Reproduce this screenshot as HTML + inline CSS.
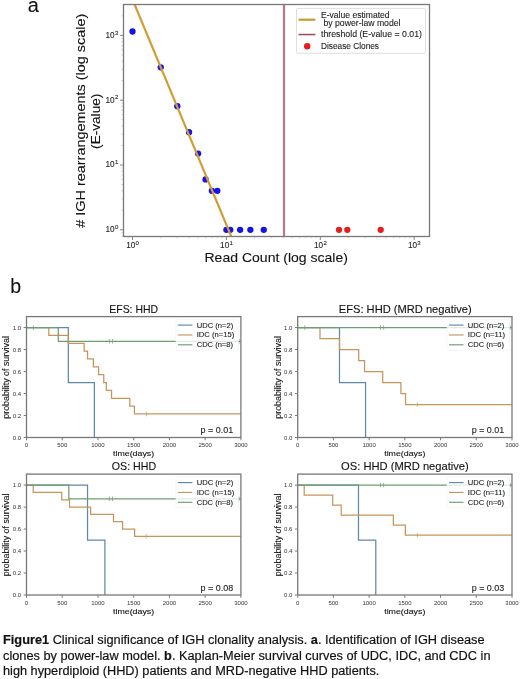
<!DOCTYPE html>
<html><head><meta charset="utf-8"><style>
html,body{margin:0;padding:0;background:#fff;}
svg{display:block;filter:blur(0.35px);}
text{font-family:"Liberation Sans", sans-serif;}
</style></head><body>
<svg width="520" height="679" viewBox="0 0 520 679">
<rect width="520" height="679" fill="#fff"/>
<clipPath id="ca"><rect x="123.5" y="4.5" width="306.0" height="232.0"/></clipPath>
<line x1="121.5" y1="236.08" x2="123.5" y2="236.08" stroke="#b0b0b0" stroke-width="0.6"/><line x1="128.20" y1="236.5" x2="128.20" y2="238.5" stroke="#b0b0b0" stroke-width="0.5"/><line x1="121.5" y1="232.77" x2="123.5" y2="232.77" stroke="#b0b0b0" stroke-width="0.6"/><line x1="132.50" y1="236.5" x2="132.50" y2="240.0" stroke="#787878" stroke-width="0.9"/><line x1="120.0" y1="229.80" x2="123.5" y2="229.80" stroke="#787878" stroke-width="0.9"/><line x1="160.77" y1="236.5" x2="160.77" y2="238.5" stroke="#b0b0b0" stroke-width="0.5"/><line x1="121.5" y1="210.29" x2="123.5" y2="210.29" stroke="#b0b0b0" stroke-width="0.6"/><line x1="177.30" y1="236.5" x2="177.30" y2="238.5" stroke="#b0b0b0" stroke-width="0.5"/><line x1="121.5" y1="198.88" x2="123.5" y2="198.88" stroke="#b0b0b0" stroke-width="0.6"/><line x1="189.03" y1="236.5" x2="189.03" y2="238.5" stroke="#b0b0b0" stroke-width="0.5"/><line x1="121.5" y1="190.79" x2="123.5" y2="190.79" stroke="#b0b0b0" stroke-width="0.6"/><line x1="198.13" y1="236.5" x2="198.13" y2="238.5" stroke="#b0b0b0" stroke-width="0.5"/><line x1="121.5" y1="184.51" x2="123.5" y2="184.51" stroke="#b0b0b0" stroke-width="0.6"/><line x1="205.57" y1="236.5" x2="205.57" y2="238.5" stroke="#b0b0b0" stroke-width="0.5"/><line x1="121.5" y1="179.38" x2="123.5" y2="179.38" stroke="#b0b0b0" stroke-width="0.6"/><line x1="211.85" y1="236.5" x2="211.85" y2="238.5" stroke="#b0b0b0" stroke-width="0.5"/><line x1="121.5" y1="175.04" x2="123.5" y2="175.04" stroke="#b0b0b0" stroke-width="0.6"/><line x1="217.30" y1="236.5" x2="217.30" y2="238.5" stroke="#b0b0b0" stroke-width="0.5"/><line x1="121.5" y1="171.28" x2="123.5" y2="171.28" stroke="#b0b0b0" stroke-width="0.6"/><line x1="222.10" y1="236.5" x2="222.10" y2="238.5" stroke="#b0b0b0" stroke-width="0.5"/><line x1="121.5" y1="167.97" x2="123.5" y2="167.97" stroke="#b0b0b0" stroke-width="0.6"/><line x1="226.40" y1="236.5" x2="226.40" y2="240.0" stroke="#787878" stroke-width="0.9"/><line x1="120.0" y1="165.00" x2="123.5" y2="165.00" stroke="#787878" stroke-width="0.9"/><line x1="254.67" y1="236.5" x2="254.67" y2="238.5" stroke="#b0b0b0" stroke-width="0.5"/><line x1="121.5" y1="145.49" x2="123.5" y2="145.49" stroke="#b0b0b0" stroke-width="0.6"/><line x1="271.20" y1="236.5" x2="271.20" y2="238.5" stroke="#b0b0b0" stroke-width="0.5"/><line x1="121.5" y1="134.08" x2="123.5" y2="134.08" stroke="#b0b0b0" stroke-width="0.6"/><line x1="282.93" y1="236.5" x2="282.93" y2="238.5" stroke="#b0b0b0" stroke-width="0.5"/><line x1="121.5" y1="125.99" x2="123.5" y2="125.99" stroke="#b0b0b0" stroke-width="0.6"/><line x1="292.03" y1="236.5" x2="292.03" y2="238.5" stroke="#b0b0b0" stroke-width="0.5"/><line x1="121.5" y1="119.71" x2="123.5" y2="119.71" stroke="#b0b0b0" stroke-width="0.6"/><line x1="299.47" y1="236.5" x2="299.47" y2="238.5" stroke="#b0b0b0" stroke-width="0.5"/><line x1="121.5" y1="114.58" x2="123.5" y2="114.58" stroke="#b0b0b0" stroke-width="0.6"/><line x1="305.75" y1="236.5" x2="305.75" y2="238.5" stroke="#b0b0b0" stroke-width="0.5"/><line x1="121.5" y1="110.24" x2="123.5" y2="110.24" stroke="#b0b0b0" stroke-width="0.6"/><line x1="311.20" y1="236.5" x2="311.20" y2="238.5" stroke="#b0b0b0" stroke-width="0.5"/><line x1="121.5" y1="106.48" x2="123.5" y2="106.48" stroke="#b0b0b0" stroke-width="0.6"/><line x1="316.00" y1="236.5" x2="316.00" y2="238.5" stroke="#b0b0b0" stroke-width="0.5"/><line x1="121.5" y1="103.17" x2="123.5" y2="103.17" stroke="#b0b0b0" stroke-width="0.6"/><line x1="320.30" y1="236.5" x2="320.30" y2="240.0" stroke="#787878" stroke-width="0.9"/><line x1="120.0" y1="100.20" x2="123.5" y2="100.20" stroke="#787878" stroke-width="0.9"/><line x1="348.57" y1="236.5" x2="348.57" y2="238.5" stroke="#b0b0b0" stroke-width="0.5"/><line x1="121.5" y1="80.69" x2="123.5" y2="80.69" stroke="#b0b0b0" stroke-width="0.6"/><line x1="365.10" y1="236.5" x2="365.10" y2="238.5" stroke="#b0b0b0" stroke-width="0.5"/><line x1="121.5" y1="69.28" x2="123.5" y2="69.28" stroke="#b0b0b0" stroke-width="0.6"/><line x1="376.83" y1="236.5" x2="376.83" y2="238.5" stroke="#b0b0b0" stroke-width="0.5"/><line x1="121.5" y1="61.19" x2="123.5" y2="61.19" stroke="#b0b0b0" stroke-width="0.6"/><line x1="385.93" y1="236.5" x2="385.93" y2="238.5" stroke="#b0b0b0" stroke-width="0.5"/><line x1="121.5" y1="54.91" x2="123.5" y2="54.91" stroke="#b0b0b0" stroke-width="0.6"/><line x1="393.37" y1="236.5" x2="393.37" y2="238.5" stroke="#b0b0b0" stroke-width="0.5"/><line x1="121.5" y1="49.78" x2="123.5" y2="49.78" stroke="#b0b0b0" stroke-width="0.6"/><line x1="399.65" y1="236.5" x2="399.65" y2="238.5" stroke="#b0b0b0" stroke-width="0.5"/><line x1="121.5" y1="45.44" x2="123.5" y2="45.44" stroke="#b0b0b0" stroke-width="0.6"/><line x1="405.10" y1="236.5" x2="405.10" y2="238.5" stroke="#b0b0b0" stroke-width="0.5"/><line x1="121.5" y1="41.68" x2="123.5" y2="41.68" stroke="#b0b0b0" stroke-width="0.6"/><line x1="409.90" y1="236.5" x2="409.90" y2="238.5" stroke="#b0b0b0" stroke-width="0.5"/><line x1="121.5" y1="38.37" x2="123.5" y2="38.37" stroke="#b0b0b0" stroke-width="0.6"/><line x1="414.20" y1="236.5" x2="414.20" y2="240.0" stroke="#787878" stroke-width="0.9"/><line x1="120.0" y1="35.40" x2="123.5" y2="35.40" stroke="#787878" stroke-width="0.9"/><line x1="121.5" y1="15.89" x2="123.5" y2="15.89" stroke="#b0b0b0" stroke-width="0.6"/>
<text x="130.75" y="247.60" font-size="8.2" stroke="#222" stroke-width="0.1" text-anchor="middle" fill="#222" id="t1">10</text>
<text x="135.60" y="244.80" font-size="6.0" stroke="#222" stroke-width="0.1" fill="#222" id="t2">0</text>
<text x="114.50" y="232.20" font-size="8.2" stroke="#222" stroke-width="0.1" text-anchor="end" fill="#222" id="t3">10</text>
<text x="114.90" y="229.00" font-size="6.0" stroke="#222" stroke-width="0.1" fill="#222" id="t4">0</text>
<text x="224.65" y="247.60" font-size="8.2" stroke="#222" stroke-width="0.1" text-anchor="middle" fill="#222" id="t5">10</text>
<text x="229.50" y="244.80" font-size="6.0" stroke="#222" stroke-width="0.1" fill="#222" id="t6">1</text>
<text x="114.50" y="167.40" font-size="8.2" stroke="#222" stroke-width="0.1" text-anchor="end" fill="#222" id="t7">10</text>
<text x="114.90" y="164.20" font-size="6.0" stroke="#222" stroke-width="0.1" fill="#222" id="t8">1</text>
<text x="318.55" y="247.60" font-size="8.2" stroke="#222" stroke-width="0.1" text-anchor="middle" fill="#222" id="t9">10</text>
<text x="323.40" y="244.80" font-size="6.0" stroke="#222" stroke-width="0.1" fill="#222" id="t10">2</text>
<text x="114.50" y="102.60" font-size="8.2" stroke="#222" stroke-width="0.1" text-anchor="end" fill="#222" id="t11">10</text>
<text x="114.90" y="99.40" font-size="6.0" stroke="#222" stroke-width="0.1" fill="#222" id="t12">2</text>
<text x="412.45" y="247.60" font-size="8.2" stroke="#222" stroke-width="0.1" text-anchor="middle" fill="#222" id="t13">10</text>
<text x="417.30" y="244.80" font-size="6.0" stroke="#222" stroke-width="0.1" fill="#222" id="t14">3</text>
<text x="114.50" y="37.80" font-size="8.2" stroke="#222" stroke-width="0.1" text-anchor="end" fill="#222" id="t15">10</text>
<text x="114.90" y="34.60" font-size="6.0" stroke="#222" stroke-width="0.1" fill="#222" id="t16">3</text>
<g clip-path="url(#ca)"><circle cx="132.50" cy="31.52" r="3.15" fill="#1414e6"/><circle cx="160.77" cy="67.29" r="3.15" fill="#1414e6"/><circle cx="177.30" cy="106.13" r="3.15" fill="#1414e6"/><circle cx="189.03" cy="132.27" r="3.15" fill="#1414e6"/><circle cx="198.13" cy="153.59" r="3.15" fill="#1414e6"/><circle cx="205.57" cy="179.38" r="3.15" fill="#1414e6"/><circle cx="211.85" cy="190.79" r="3.15" fill="#1414e6"/><circle cx="217.30" cy="190.79" r="3.15" fill="#1414e6"/><circle cx="226.40" cy="229.80" r="3.15" fill="#1414e6"/><circle cx="230.29" cy="229.80" r="3.15" fill="#1414e6"/><circle cx="240.12" cy="229.80" r="3.15" fill="#1414e6"/><circle cx="250.37" cy="229.80" r="3.15" fill="#1414e6"/><circle cx="263.77" cy="229.80" r="3.15" fill="#1414e6"/><circle cx="339.00" cy="229.80" r="3.15" fill="#e61e1e"/><circle cx="347.30" cy="229.80" r="3.15" fill="#e61e1e"/><circle cx="380.70" cy="229.80" r="3.15" fill="#e61e1e"/>
<line x1="284.0" y1="4.5" x2="284.0" y2="236.5" stroke="#b47c8a" stroke-width="2.25"/>
<line x1="130.43" y1="-5.50" x2="235.37" y2="246.30" stroke="#d09e34" stroke-width="2.2"/>
</g>
<rect x="123.5" y="4.5" width="306.0" height="232.0" fill="none" stroke="#787878" stroke-width="1.3"/>
<rect x="296.5" y="8.4" width="129.0" height="44.9" rx="1.5" fill="#fff" fill-opacity="0.8" stroke="#d6d6d6" stroke-width="0.8"/>
<line x1="298.5" y1="19.7" x2="315.4" y2="19.7" stroke="#c49c34" stroke-width="2.2"/>
<line x1="298.5" y1="34.55" x2="315.4" y2="34.55" stroke="#9c4858" stroke-width="1.5"/>
<circle cx="307.2" cy="46.2" r="3.2" fill="#e61e1e"/>
<text x="321.00" y="17.60" font-size="8.4" stroke="#222" stroke-width="0.1" textLength="68.60" lengthAdjust="spacingAndGlyphs" fill="#222" id="lg1">E-value estimated</text>
<text x="323.50" y="25.80" font-size="8.4" stroke="#222" stroke-width="0.1" textLength="77.00" lengthAdjust="spacingAndGlyphs" fill="#222" id="lg2">by power-law model</text>
<text x="321.00" y="36.90" font-size="8.4" stroke="#222" stroke-width="0.1" textLength="101.00" lengthAdjust="spacingAndGlyphs" fill="#222" id="lg3">threshold (E-value = 0.01)</text>
<text x="321.00" y="48.60" font-size="8.4" stroke="#222" stroke-width="0.1" textLength="58.00" lengthAdjust="spacingAndGlyphs" fill="#222" id="lg4">Disease Clones</text>
<text x="84.60" y="227.70" font-size="12.7" stroke="#111" stroke-width="0.1" textLength="214.00" lengthAdjust="spacingAndGlyphs" fill="#111" transform="rotate(-90 84.60 227.70)" id="yl1"># IGH rearrangements (log scale)</text>
<text x="100.30" y="148.90" font-size="12.7" stroke="#111" stroke-width="0.1" textLength="55.20" lengthAdjust="spacingAndGlyphs" fill="#111" transform="rotate(-90 100.30 148.90)" id="yl2">(E-value)</text>
<text x="204.50" y="261.50" font-size="13.2" stroke="#111" stroke-width="0.1" textLength="143.40" lengthAdjust="spacingAndGlyphs" fill="#111" id="xl">Read Count (log scale)</text>
<text x="27.80" y="11.60" font-size="20" stroke="#111" stroke-width="0.1" fill="#111" id="la">a</text>
<text x="10.20" y="292.80" font-size="19.5" stroke="#111" stroke-width="0.1" fill="#111" id="lb">b</text>
<clipPath id="ck0"><rect x="25.5" y="316.6" width="215.4" height="121.89999999999998"/></clipPath>
<line x1="26.50" y1="437.5" x2="26.50" y2="440.3" stroke="#787878" stroke-width="1.0"/><line x1="62.23" y1="437.5" x2="62.23" y2="440.3" stroke="#787878" stroke-width="1.0"/><line x1="97.97" y1="437.5" x2="97.97" y2="440.3" stroke="#787878" stroke-width="1.0"/><line x1="133.70" y1="437.5" x2="133.70" y2="440.3" stroke="#787878" stroke-width="1.0"/><line x1="169.43" y1="437.5" x2="169.43" y2="440.3" stroke="#787878" stroke-width="1.0"/><line x1="205.17" y1="437.5" x2="205.17" y2="440.3" stroke="#787878" stroke-width="1.0"/><line x1="240.90" y1="437.5" x2="240.90" y2="440.3" stroke="#787878" stroke-width="1.0"/><line x1="23.7" y1="437.50" x2="26.5" y2="437.50" stroke="#787878" stroke-width="1.0"/><line x1="23.7" y1="415.52" x2="26.5" y2="415.52" stroke="#787878" stroke-width="1.0"/><line x1="23.7" y1="393.54" x2="26.5" y2="393.54" stroke="#787878" stroke-width="1.0"/><line x1="23.7" y1="371.55" x2="26.5" y2="371.55" stroke="#787878" stroke-width="1.0"/><line x1="23.7" y1="349.57" x2="26.5" y2="349.57" stroke="#787878" stroke-width="1.0"/><line x1="23.7" y1="327.59" x2="26.5" y2="327.59" stroke="#787878" stroke-width="1.0"/>
<text x="26.50" y="447.30" font-size="6.0" text-anchor="middle" fill="#333" id="t17">0</text>
<text x="62.23" y="447.30" font-size="6.0" text-anchor="middle" fill="#333" id="t18">500</text>
<text x="97.97" y="447.30" font-size="6.0" text-anchor="middle" fill="#333" id="t19">1000</text>
<text x="133.70" y="447.30" font-size="6.0" text-anchor="middle" fill="#333" id="t20">1500</text>
<text x="169.43" y="447.30" font-size="6.0" text-anchor="middle" fill="#333" id="t21">2000</text>
<text x="205.17" y="447.30" font-size="6.0" text-anchor="middle" fill="#333" id="t22">2500</text>
<text x="240.90" y="447.30" font-size="6.0" text-anchor="middle" fill="#333" id="t23">3000</text>
<text x="21.20" y="439.70" font-size="6.0" text-anchor="end" fill="#333" id="t24">0.0</text>
<text x="21.20" y="417.72" font-size="6.0" text-anchor="end" fill="#333" id="t25">0.2</text>
<text x="21.20" y="395.74" font-size="6.0" text-anchor="end" fill="#333" id="t26">0.4</text>
<text x="21.20" y="373.75" font-size="6.0" text-anchor="end" fill="#333" id="t27">0.6</text>
<text x="21.20" y="351.77" font-size="6.0" text-anchor="end" fill="#333" id="t28">0.8</text>
<text x="21.20" y="329.79" font-size="6.0" text-anchor="end" fill="#333" id="t29">1.0</text>
<g clip-path="url(#ck0)" fill="none" stroke-width="1.25"><path d="M26.50,327.59H68.31V382.55H94.39V437.50" stroke="#6088aa"/><path d="M26.50,327.59H48.80V335.44H68.31V343.29H84.17V351.14H87.53V358.99H93.39V366.84H98.61V374.69H103.76V382.55H106.33V390.40H111.55V398.25H129.77V406.10H134.41V413.95H240.90" stroke="#c6955c"/><path d="M26.50,327.59H58.30V341.33H240.90" stroke="#6d9e72"/><line x1="146.42" y1="411.65" x2="146.42" y2="416.25" stroke="#c6955c" stroke-width="0.7"/><line x1="33.43" y1="325.29" x2="33.43" y2="329.89" stroke="#6d9e72" stroke-width="0.7"/><line x1="109.40" y1="339.03" x2="109.40" y2="343.63" stroke="#6d9e72" stroke-width="0.7"/><line x1="112.47" y1="339.03" x2="112.47" y2="343.63" stroke="#6d9e72" stroke-width="0.7"/><line x1="239.11" y1="339.03" x2="239.11" y2="343.63" stroke="#6d9e72" stroke-width="0.7"/></g>
<rect x="26.5" y="316.6" width="214.4" height="120.89999999999998" fill="none" stroke="#787878" stroke-width="1.3"/>
<rect x="175.90" y="319.60" width="62.5" height="30.6" rx="1.5" fill="#fff" fill-opacity="0.8" stroke="#f0f0f0" stroke-width="0.6"/>
<line x1="177.90" y1="325.10" x2="192.40" y2="325.10" stroke="#6088aa" stroke-width="1.15"/>
<text x="196.70" y="327.60" font-size="7.2" stroke="#222" stroke-width="0.1" textLength="36.60" lengthAdjust="spacingAndGlyphs" fill="#222" id="t30">UDC (n=2)</text>
<line x1="177.90" y1="334.95" x2="192.40" y2="334.95" stroke="#c6955c" stroke-width="1.15"/>
<text x="196.70" y="337.45" font-size="7.2" stroke="#222" stroke-width="0.1" textLength="37.60" lengthAdjust="spacingAndGlyphs" fill="#222" id="t31">IDC (n=15)</text>
<line x1="177.90" y1="344.80" x2="192.40" y2="344.80" stroke="#6d9e72" stroke-width="1.15"/>
<text x="196.70" y="347.30" font-size="7.2" stroke="#222" stroke-width="0.1" textLength="36.30" lengthAdjust="spacingAndGlyphs" fill="#222" id="t32">CDC (n=8)</text>
<text x="200.60" y="433.20" font-size="8.8" stroke="#222" stroke-width="0.1" textLength="32.60" lengthAdjust="spacingAndGlyphs" fill="#222" id="t33">p = 0.01</text>
<text x="109.30" y="312.80" font-size="10.2" stroke="#111" stroke-width="0.1" textLength="48.70" lengthAdjust="spacingAndGlyphs" fill="#111" id="t34">EFS: HHD</text>
<text x="9.40" y="418.70" font-size="9.0" stroke="#111" stroke-width="0.1" textLength="82.60" lengthAdjust="spacingAndGlyphs" fill="#111" transform="rotate(-90 9.40 418.70)" id="t35">probability of survival</text>
<text x="113.00" y="456.40" font-size="7.9" stroke="#111" stroke-width="0.1" textLength="41.20" lengthAdjust="spacingAndGlyphs" fill="#111" id="t36">time(days)</text>
<clipPath id="ck1"><rect x="296.7" y="316.6" width="215.3" height="121.89999999999998"/></clipPath>
<line x1="297.70" y1="437.5" x2="297.70" y2="440.3" stroke="#787878" stroke-width="1.0"/><line x1="333.42" y1="437.5" x2="333.42" y2="440.3" stroke="#787878" stroke-width="1.0"/><line x1="369.13" y1="437.5" x2="369.13" y2="440.3" stroke="#787878" stroke-width="1.0"/><line x1="404.85" y1="437.5" x2="404.85" y2="440.3" stroke="#787878" stroke-width="1.0"/><line x1="440.57" y1="437.5" x2="440.57" y2="440.3" stroke="#787878" stroke-width="1.0"/><line x1="476.28" y1="437.5" x2="476.28" y2="440.3" stroke="#787878" stroke-width="1.0"/><line x1="512.00" y1="437.5" x2="512.00" y2="440.3" stroke="#787878" stroke-width="1.0"/><line x1="294.9" y1="437.50" x2="297.7" y2="437.50" stroke="#787878" stroke-width="1.0"/><line x1="294.9" y1="415.52" x2="297.7" y2="415.52" stroke="#787878" stroke-width="1.0"/><line x1="294.9" y1="393.54" x2="297.7" y2="393.54" stroke="#787878" stroke-width="1.0"/><line x1="294.9" y1="371.55" x2="297.7" y2="371.55" stroke="#787878" stroke-width="1.0"/><line x1="294.9" y1="349.57" x2="297.7" y2="349.57" stroke="#787878" stroke-width="1.0"/><line x1="294.9" y1="327.59" x2="297.7" y2="327.59" stroke="#787878" stroke-width="1.0"/>
<text x="297.70" y="447.30" font-size="6.0" text-anchor="middle" fill="#333" id="t37">0</text>
<text x="333.42" y="447.30" font-size="6.0" text-anchor="middle" fill="#333" id="t38">500</text>
<text x="369.13" y="447.30" font-size="6.0" text-anchor="middle" fill="#333" id="t39">1000</text>
<text x="404.85" y="447.30" font-size="6.0" text-anchor="middle" fill="#333" id="t40">1500</text>
<text x="440.57" y="447.30" font-size="6.0" text-anchor="middle" fill="#333" id="t41">2000</text>
<text x="476.28" y="447.30" font-size="6.0" text-anchor="middle" fill="#333" id="t42">2500</text>
<text x="512.00" y="447.30" font-size="6.0" text-anchor="middle" fill="#333" id="t43">3000</text>
<text x="292.40" y="439.70" font-size="6.0" text-anchor="end" fill="#333" id="t44">0.0</text>
<text x="292.40" y="417.72" font-size="6.0" text-anchor="end" fill="#333" id="t45">0.2</text>
<text x="292.40" y="395.74" font-size="6.0" text-anchor="end" fill="#333" id="t46">0.4</text>
<text x="292.40" y="373.75" font-size="6.0" text-anchor="end" fill="#333" id="t47">0.6</text>
<text x="292.40" y="351.77" font-size="6.0" text-anchor="end" fill="#333" id="t48">0.8</text>
<text x="292.40" y="329.79" font-size="6.0" text-anchor="end" fill="#333" id="t49">1.0</text>
<g clip-path="url(#ck1)" fill="none" stroke-width="1.25"><path d="M297.70,327.59H339.49V382.55H365.56V437.50" stroke="#6088aa"/><path d="M297.70,327.59H319.99V338.58H339.49V349.57H358.70V360.56H364.56V371.55H382.71V382.55H400.92V393.54H405.56V404.53H512.00" stroke="#c6955c"/><path d="M297.70,327.59H512.00" stroke="#6d9e72"/><line x1="417.35" y1="402.23" x2="417.35" y2="406.83" stroke="#c6955c" stroke-width="0.7"/><line x1="304.70" y1="325.29" x2="304.70" y2="329.89" stroke="#6d9e72" stroke-width="0.7"/><line x1="380.56" y1="325.29" x2="380.56" y2="329.89" stroke="#6d9e72" stroke-width="0.7"/><line x1="383.63" y1="325.29" x2="383.63" y2="329.89" stroke="#6d9e72" stroke-width="0.7"/><line x1="510.21" y1="325.29" x2="510.21" y2="329.89" stroke="#6d9e72" stroke-width="0.7"/></g>
<rect x="297.7" y="316.6" width="214.3" height="120.89999999999998" fill="none" stroke="#787878" stroke-width="1.3"/>
<rect x="447.00" y="319.60" width="62.5" height="30.6" rx="1.5" fill="#fff" fill-opacity="0.8" stroke="#f0f0f0" stroke-width="0.6"/>
<line x1="449.00" y1="325.10" x2="463.50" y2="325.10" stroke="#6088aa" stroke-width="1.15"/>
<text x="467.80" y="327.60" font-size="7.2" stroke="#222" stroke-width="0.1" textLength="36.60" lengthAdjust="spacingAndGlyphs" fill="#222" id="t50">UDC (n=2)</text>
<line x1="449.00" y1="334.95" x2="463.50" y2="334.95" stroke="#c6955c" stroke-width="1.15"/>
<text x="467.80" y="337.45" font-size="7.2" stroke="#222" stroke-width="0.1" textLength="37.40" lengthAdjust="spacingAndGlyphs" fill="#222" id="t51">IDC (n=11)</text>
<line x1="449.00" y1="344.80" x2="463.50" y2="344.80" stroke="#6d9e72" stroke-width="1.15"/>
<text x="467.80" y="347.30" font-size="7.2" stroke="#222" stroke-width="0.1" textLength="36.30" lengthAdjust="spacingAndGlyphs" fill="#222" id="t52">CDC (n=6)</text>
<text x="471.70" y="433.20" font-size="8.8" stroke="#222" stroke-width="0.1" textLength="32.60" lengthAdjust="spacingAndGlyphs" fill="#222" id="t53">p = 0.01</text>
<text x="338.80" y="312.80" font-size="10.2" stroke="#111" stroke-width="0.1" textLength="132.90" lengthAdjust="spacingAndGlyphs" fill="#111" id="t54">EFS: HHD (MRD negative)</text>
<text x="280.60" y="418.70" font-size="9.0" stroke="#111" stroke-width="0.1" textLength="82.60" lengthAdjust="spacingAndGlyphs" fill="#111" transform="rotate(-90 280.60 418.70)" id="t55">probability of survival</text>
<text x="384.20" y="456.40" font-size="7.9" stroke="#111" stroke-width="0.1" textLength="41.20" lengthAdjust="spacingAndGlyphs" fill="#111" id="t56">time(days)</text>
<clipPath id="ck2"><rect x="25.5" y="474.1" width="215.4" height="121.89999999999998"/></clipPath>
<line x1="26.50" y1="595.0" x2="26.50" y2="597.8" stroke="#787878" stroke-width="1.0"/><line x1="62.23" y1="595.0" x2="62.23" y2="597.8" stroke="#787878" stroke-width="1.0"/><line x1="97.97" y1="595.0" x2="97.97" y2="597.8" stroke="#787878" stroke-width="1.0"/><line x1="133.70" y1="595.0" x2="133.70" y2="597.8" stroke="#787878" stroke-width="1.0"/><line x1="169.43" y1="595.0" x2="169.43" y2="597.8" stroke="#787878" stroke-width="1.0"/><line x1="205.17" y1="595.0" x2="205.17" y2="597.8" stroke="#787878" stroke-width="1.0"/><line x1="240.90" y1="595.0" x2="240.90" y2="597.8" stroke="#787878" stroke-width="1.0"/><line x1="23.7" y1="595.00" x2="26.5" y2="595.00" stroke="#787878" stroke-width="1.0"/><line x1="23.7" y1="573.02" x2="26.5" y2="573.02" stroke="#787878" stroke-width="1.0"/><line x1="23.7" y1="551.04" x2="26.5" y2="551.04" stroke="#787878" stroke-width="1.0"/><line x1="23.7" y1="529.05" x2="26.5" y2="529.05" stroke="#787878" stroke-width="1.0"/><line x1="23.7" y1="507.07" x2="26.5" y2="507.07" stroke="#787878" stroke-width="1.0"/><line x1="23.7" y1="485.09" x2="26.5" y2="485.09" stroke="#787878" stroke-width="1.0"/>
<text x="26.50" y="604.80" font-size="6.0" text-anchor="middle" fill="#333" id="t57">0</text>
<text x="62.23" y="604.80" font-size="6.0" text-anchor="middle" fill="#333" id="t58">500</text>
<text x="97.97" y="604.80" font-size="6.0" text-anchor="middle" fill="#333" id="t59">1000</text>
<text x="133.70" y="604.80" font-size="6.0" text-anchor="middle" fill="#333" id="t60">1500</text>
<text x="169.43" y="604.80" font-size="6.0" text-anchor="middle" fill="#333" id="t61">2000</text>
<text x="205.17" y="604.80" font-size="6.0" text-anchor="middle" fill="#333" id="t62">2500</text>
<text x="240.90" y="604.80" font-size="6.0" text-anchor="middle" fill="#333" id="t63">3000</text>
<text x="21.20" y="597.20" font-size="6.0" text-anchor="end" fill="#333" id="t64">0.0</text>
<text x="21.20" y="575.22" font-size="6.0" text-anchor="end" fill="#333" id="t65">0.2</text>
<text x="21.20" y="553.24" font-size="6.0" text-anchor="end" fill="#333" id="t66">0.4</text>
<text x="21.20" y="531.25" font-size="6.0" text-anchor="end" fill="#333" id="t67">0.6</text>
<text x="21.20" y="509.27" font-size="6.0" text-anchor="end" fill="#333" id="t68">0.8</text>
<text x="21.20" y="487.29" font-size="6.0" text-anchor="end" fill="#333" id="t69">1.0</text>
<g clip-path="url(#ck2)" fill="none" stroke-width="1.25"><path d="M26.50,485.09H87.53V540.05H104.90V595.00" stroke="#6088aa"/><path d="M26.50,485.09H33.22V492.42H61.73V499.75H69.52V507.07H90.61V514.40H113.47V521.73H122.62V529.05H134.63V536.38H240.90" stroke="#c6955c"/><path d="M26.50,485.09H68.81V498.83H240.90" stroke="#6d9e72"/><line x1="146.21" y1="534.08" x2="146.21" y2="538.68" stroke="#c6955c" stroke-width="0.7"/><line x1="109.40" y1="496.53" x2="109.40" y2="501.13" stroke="#6d9e72" stroke-width="0.7"/><line x1="112.47" y1="496.53" x2="112.47" y2="501.13" stroke="#6d9e72" stroke-width="0.7"/><line x1="239.11" y1="496.53" x2="239.11" y2="501.13" stroke="#6d9e72" stroke-width="0.7"/></g>
<rect x="26.5" y="474.1" width="214.4" height="120.89999999999998" fill="none" stroke="#787878" stroke-width="1.3"/>
<rect x="175.90" y="477.10" width="62.5" height="30.6" rx="1.5" fill="#fff" fill-opacity="0.8" stroke="#f0f0f0" stroke-width="0.6"/>
<line x1="177.90" y1="482.60" x2="192.40" y2="482.60" stroke="#6088aa" stroke-width="1.15"/>
<text x="196.70" y="485.10" font-size="7.2" stroke="#222" stroke-width="0.1" textLength="36.60" lengthAdjust="spacingAndGlyphs" fill="#222" id="t70">UDC (n=2)</text>
<line x1="177.90" y1="492.45" x2="192.40" y2="492.45" stroke="#c6955c" stroke-width="1.15"/>
<text x="196.70" y="494.95" font-size="7.2" stroke="#222" stroke-width="0.1" textLength="37.60" lengthAdjust="spacingAndGlyphs" fill="#222" id="t71">IDC (n=15)</text>
<line x1="177.90" y1="502.30" x2="192.40" y2="502.30" stroke="#6d9e72" stroke-width="1.15"/>
<text x="196.70" y="504.80" font-size="7.2" stroke="#222" stroke-width="0.1" textLength="36.30" lengthAdjust="spacingAndGlyphs" fill="#222" id="t72">CDC (n=8)</text>
<text x="200.60" y="590.70" font-size="8.8" stroke="#222" stroke-width="0.1" textLength="32.60" lengthAdjust="spacingAndGlyphs" fill="#222" id="t73">p = 0.08</text>
<text x="111.80" y="470.30" font-size="10.2" stroke="#111" stroke-width="0.1" textLength="44.30" lengthAdjust="spacingAndGlyphs" fill="#111" id="t74">OS: HHD</text>
<text x="9.40" y="576.20" font-size="9.0" stroke="#111" stroke-width="0.1" textLength="82.60" lengthAdjust="spacingAndGlyphs" fill="#111" transform="rotate(-90 9.40 576.20)" id="t75">probability of survival</text>
<text x="113.00" y="613.90" font-size="7.9" stroke="#111" stroke-width="0.1" textLength="41.20" lengthAdjust="spacingAndGlyphs" fill="#111" id="t76">time(days)</text>
<clipPath id="ck3"><rect x="296.7" y="474.1" width="215.3" height="121.89999999999998"/></clipPath>
<line x1="297.70" y1="595.0" x2="297.70" y2="597.8" stroke="#787878" stroke-width="1.0"/><line x1="333.42" y1="595.0" x2="333.42" y2="597.8" stroke="#787878" stroke-width="1.0"/><line x1="369.13" y1="595.0" x2="369.13" y2="597.8" stroke="#787878" stroke-width="1.0"/><line x1="404.85" y1="595.0" x2="404.85" y2="597.8" stroke="#787878" stroke-width="1.0"/><line x1="440.57" y1="595.0" x2="440.57" y2="597.8" stroke="#787878" stroke-width="1.0"/><line x1="476.28" y1="595.0" x2="476.28" y2="597.8" stroke="#787878" stroke-width="1.0"/><line x1="512.00" y1="595.0" x2="512.00" y2="597.8" stroke="#787878" stroke-width="1.0"/><line x1="294.9" y1="595.00" x2="297.7" y2="595.00" stroke="#787878" stroke-width="1.0"/><line x1="294.9" y1="573.02" x2="297.7" y2="573.02" stroke="#787878" stroke-width="1.0"/><line x1="294.9" y1="551.04" x2="297.7" y2="551.04" stroke="#787878" stroke-width="1.0"/><line x1="294.9" y1="529.05" x2="297.7" y2="529.05" stroke="#787878" stroke-width="1.0"/><line x1="294.9" y1="507.07" x2="297.7" y2="507.07" stroke="#787878" stroke-width="1.0"/><line x1="294.9" y1="485.09" x2="297.7" y2="485.09" stroke="#787878" stroke-width="1.0"/>
<text x="297.70" y="604.80" font-size="6.0" text-anchor="middle" fill="#333" id="t77">0</text>
<text x="333.42" y="604.80" font-size="6.0" text-anchor="middle" fill="#333" id="t78">500</text>
<text x="369.13" y="604.80" font-size="6.0" text-anchor="middle" fill="#333" id="t79">1000</text>
<text x="404.85" y="604.80" font-size="6.0" text-anchor="middle" fill="#333" id="t80">1500</text>
<text x="440.57" y="604.80" font-size="6.0" text-anchor="middle" fill="#333" id="t81">2000</text>
<text x="476.28" y="604.80" font-size="6.0" text-anchor="middle" fill="#333" id="t82">2500</text>
<text x="512.00" y="604.80" font-size="6.0" text-anchor="middle" fill="#333" id="t83">3000</text>
<text x="292.40" y="597.20" font-size="6.0" text-anchor="end" fill="#333" id="t84">0.0</text>
<text x="292.40" y="575.22" font-size="6.0" text-anchor="end" fill="#333" id="t85">0.2</text>
<text x="292.40" y="553.24" font-size="6.0" text-anchor="end" fill="#333" id="t86">0.4</text>
<text x="292.40" y="531.25" font-size="6.0" text-anchor="end" fill="#333" id="t87">0.6</text>
<text x="292.40" y="509.27" font-size="6.0" text-anchor="end" fill="#333" id="t88">0.8</text>
<text x="292.40" y="487.29" font-size="6.0" text-anchor="end" fill="#333" id="t89">1.0</text>
<g clip-path="url(#ck3)" fill="none" stroke-width="1.25"><path d="M297.70,485.09H358.49V540.05H375.78V595.00" stroke="#6088aa"/><path d="M297.70,485.09H304.20V495.08H332.70V505.07H341.20V515.07H393.35V525.06H405.35V535.05H512.00" stroke="#c6955c"/><path d="M297.70,485.09H512.00" stroke="#6d9e72"/><line x1="417.35" y1="532.75" x2="417.35" y2="537.35" stroke="#c6955c" stroke-width="0.7"/><line x1="380.56" y1="482.79" x2="380.56" y2="487.39" stroke="#6d9e72" stroke-width="0.7"/><line x1="383.63" y1="482.79" x2="383.63" y2="487.39" stroke="#6d9e72" stroke-width="0.7"/><line x1="510.21" y1="482.79" x2="510.21" y2="487.39" stroke="#6d9e72" stroke-width="0.7"/></g>
<rect x="297.7" y="474.1" width="214.3" height="120.89999999999998" fill="none" stroke="#787878" stroke-width="1.3"/>
<rect x="447.00" y="477.10" width="62.5" height="30.6" rx="1.5" fill="#fff" fill-opacity="0.8" stroke="#f0f0f0" stroke-width="0.6"/>
<line x1="449.00" y1="482.60" x2="463.50" y2="482.60" stroke="#6088aa" stroke-width="1.15"/>
<text x="467.80" y="485.10" font-size="7.2" stroke="#222" stroke-width="0.1" textLength="36.60" lengthAdjust="spacingAndGlyphs" fill="#222" id="t90">UDC (n=2)</text>
<line x1="449.00" y1="492.45" x2="463.50" y2="492.45" stroke="#c6955c" stroke-width="1.15"/>
<text x="467.80" y="494.95" font-size="7.2" stroke="#222" stroke-width="0.1" textLength="37.40" lengthAdjust="spacingAndGlyphs" fill="#222" id="t91">IDC (n=11)</text>
<line x1="449.00" y1="502.30" x2="463.50" y2="502.30" stroke="#6d9e72" stroke-width="1.15"/>
<text x="467.80" y="504.80" font-size="7.2" stroke="#222" stroke-width="0.1" textLength="36.30" lengthAdjust="spacingAndGlyphs" fill="#222" id="t92">CDC (n=6)</text>
<text x="471.70" y="590.70" font-size="8.8" stroke="#222" stroke-width="0.1" textLength="32.60" lengthAdjust="spacingAndGlyphs" fill="#222" id="t93">p = 0.03</text>
<text x="341.10" y="470.30" font-size="10.2" stroke="#111" stroke-width="0.1" textLength="127.70" lengthAdjust="spacingAndGlyphs" fill="#111" id="t94">OS: HHD (MRD negative)</text>
<text x="280.60" y="576.20" font-size="9.0" stroke="#111" stroke-width="0.1" textLength="82.60" lengthAdjust="spacingAndGlyphs" fill="#111" transform="rotate(-90 280.60 576.20)" id="t95">probability of survival</text>
<text x="384.20" y="613.90" font-size="7.9" stroke="#111" stroke-width="0.1" textLength="41.20" lengthAdjust="spacingAndGlyphs" fill="#111" id="t96">time(days)</text>
<text x="3.0" y="644.4" font-size="12.3" textLength="481.6" lengthAdjust="spacingAndGlyphs" fill="#111" stroke="#111" stroke-width="0.18" xml:space="preserve"><tspan font-weight="bold">Figure1</tspan><tspan> Clinical significance of IGH clonality analysis. </tspan><tspan font-weight="bold">a</tspan><tspan>. Identification of IGH disease</tspan></text>
<text x="3.0" y="659.8" font-size="12.3" textLength="487.5" lengthAdjust="spacingAndGlyphs" fill="#111" stroke="#111" stroke-width="0.18" xml:space="preserve"><tspan>clones by power-law model. </tspan><tspan font-weight="bold">b</tspan><tspan>. Kaplan-Meier survival curves of UDC, IDC, and CDC in</tspan></text>
<text x="3.0" y="674.7" font-size="12.3" textLength="376.3" lengthAdjust="spacingAndGlyphs" fill="#111" stroke="#111" stroke-width="0.18" xml:space="preserve"><tspan>high hyperdiploid (HHD) patients and MRD-negative HHD patients.</tspan></text>
</svg>
</body></html>
